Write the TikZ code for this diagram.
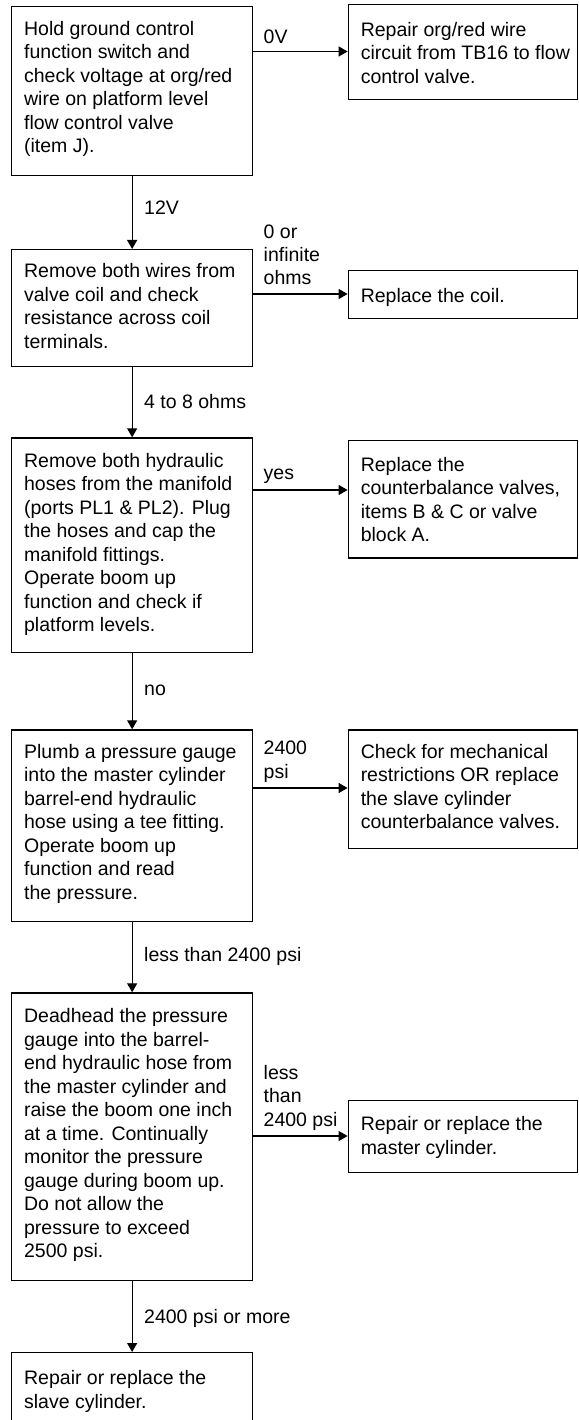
\documentclass[tikz,border=0pt]{standalone}
\usepackage{fontspec}
\setmainfont{Liberation Sans}
\usetikzlibrary{arrows.meta,calc}
\newcommand{\bx}[4]{\parbox[t][#2pt][t]{#1pt}{\vspace*{#3pt}\hspace*{12.5pt}\begin{tabular}[t]{@{}l@{}}#4\end{tabular}}}
\tikzset{
  box/.style={draw, line width=1.3pt, anchor=north west, inner sep=0pt,
    font=\fontsize{19.5}{23.5}\selectfont},
  lbl/.style={anchor=base west, inner sep=0pt, align=left,
    font=\fontsize{19.5}{23.3}\selectfont},
  arr/.style={line width=1.3pt, -{Triangle[length=9pt,width=10pt]}},
}
\begin{document}
\begin{tikzpicture}[x=1pt,y=-1pt]
\useasboundingbox (0,0) rectangle (578,1420);
\clip (0,0) rectangle (578,1420);

% left column
\node[box] (b1) at (11,6) {\bx{241}{169}{12.3}{Hold ground control\\function switch and\\check voltage at org/red\\wire on platform level\\flow control valve\\(item J).}};
\node[box] (b2) at (11,249) {\bx{241}{117}{11.6}{Remove both wires from\\valve coil and check\\resistance across coil\\terminals.}};
\node[box] (b3) at (11,437.3) {\bx{241}{214.4}{12.7}{Remove both hydraulic\\hoses from the manifold\\(ports PL1 \& PL2). Plug\\the hoses and cap the\\manifold fittings.\\Operate boom up\\function and check if\\platform levels.}};
\node[box] (b4) at (11,729.3) {\bx{241}{191.4}{11.6}{Plumb a pressure gauge\\into the master cylinder\\barrel-end hydraulic\\hose using a tee fitting.\\Operate boom up\\function and read\\the pressure.}};
\node[box] (b5) at (11,992.3) {\bx{241}{287.7}{13.2}{Deadhead the pressure\\gauge into the barrel-\\end hydraulic hose from\\the master cylinder and\\raise the boom one inch\\at a time. Continually\\monitor the pressure\\gauge during boom up.\\Do not allow the\\pressure to exceed\\2500 psi.}};
\node[box] (b6) at (11,1352) {\bx{241}{100}{15.6}{Repair or replace the\\slave cylinder.}};

% right column
\node[box] (r1) at (347.6,4) {\bx{229.4}{95}{15}{Repair org/red wire\\circuit from TB16 to flow\\control valve.}};
\node[box] (r2) at (347.6,270) {\bx{229.4}{48}{15.5}{Replace the coil.}};
\node[box] (r3) at (347.6,440) {\bx{229.4}{117.3}{14}{Replace the\\counterbalance valves,\\items B \& C or valve\\block A.}};
\node[box] (r4) at (347.6,729.3) {\bx{229.4}{118.7}{11.6}{Check for mechanical\\restrictions OR replace\\the slave cylinder\\counterbalance valves.}};
\node[box] (r5) at (347.6,1100) {\bx{229.4}{71.7}{13.5}{Repair or replace the\\master cylinder.}};

% vertical connectors
\draw[arr] (b1.south) -- (b2.north);
\draw[arr] (b2.south) -- (b3.north);
\draw[arr] (b3.south) -- (b4.north);
\draw[arr] (b4.south) -- (b5.north);
\draw[arr] (b5.south) -- (b6.north);

% horizontal connectors
\coordinate (h1) at (0,51.5);
\coordinate (h2) at (0,294);
\coordinate (h3) at (0,490);
\coordinate (h4) at (0,788);
\coordinate (h5) at (0,1136);
\draw[arr] (b1.east |- h1) -- (r1.west |- h1);
\draw[arr] (b2.east |- h2) -- (r2.west |- h2);
\draw[arr] (b3.east |- h3) -- (r3.west |- h3);
\draw[arr] (b4.east |- h4) -- (r4.west |- h4);
\draw[arr] (b5.east |- h5) -- (r5.west |- h5);

% labels of vertical connectors
\node[lbl] (l12) at (144,215) {12V};
\node[lbl] (l48) at (144,408) {4 to 8 ohms};
\node[lbl] (lno) at (144,695) {no};
\node[lbl] (llt) at (144,961) {less than 2400 psi};
\node[lbl] (lmo) at (144,1323) {2400 psi or more};

% labels of horizontal connectors
\node[lbl] (l0v) at (263.5,43.7) {0V};
\node[lbl] (lin) at (263.5,285) {0 or\\infinite\\ohms};
\node[lbl] (lye) at (263.5,479) {yes};
\node[lbl] (lps) at (263.5,778) {2400\\psi};
\node[lbl] (lle) at (263.5,1126) {less\\than\\2400 psi};
\end{tikzpicture}
\end{document}
